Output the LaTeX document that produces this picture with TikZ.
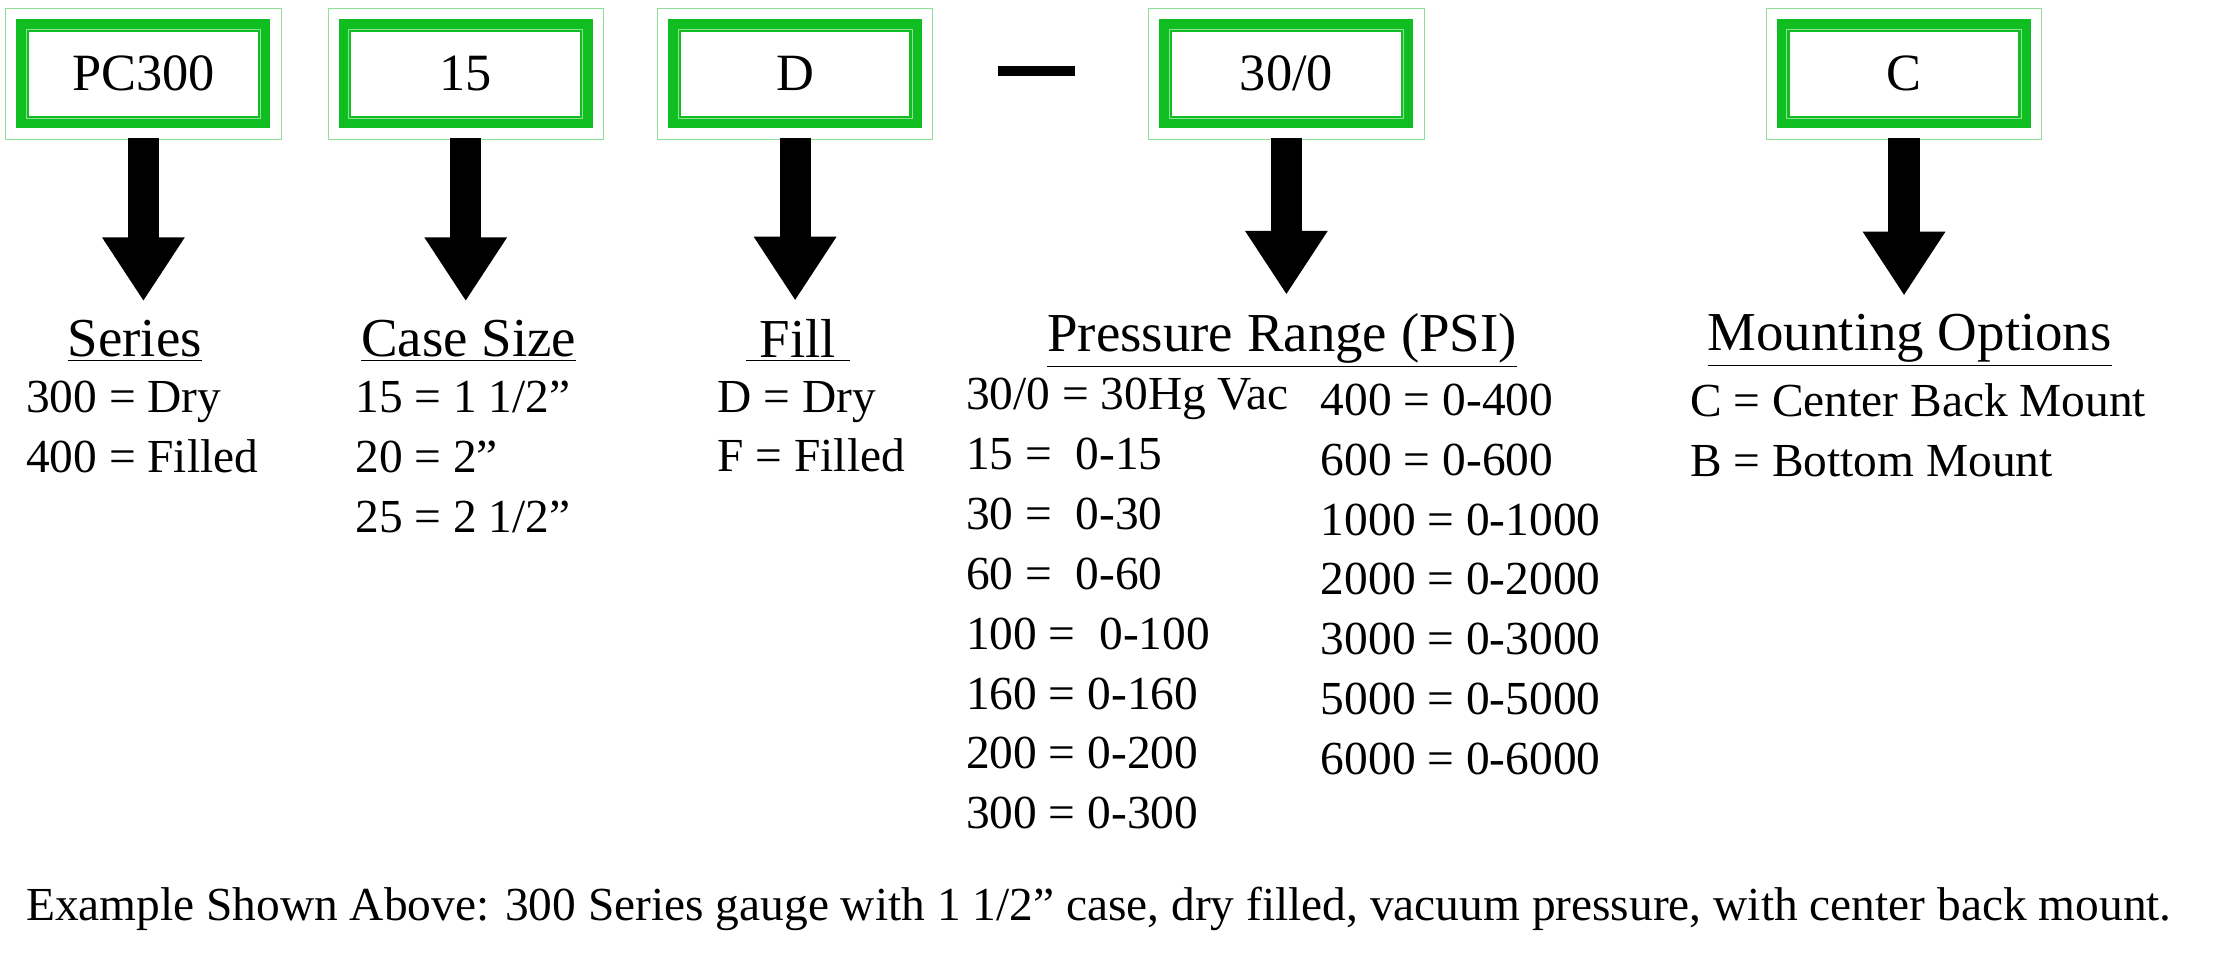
\documentclass[tikz,border=0pt]{standalone}
\usepackage{fontspec}
\setmainfont{Liberation Serif}
\usetikzlibrary{arrows.meta}
\definecolor{vert}{RGB}{16,190,34}
\definecolor{vertclair}{RGB}{140,225,150}
\begin{document}
\begin{tikzpicture}[x=0.02cm, y=-0.02cm]
	\tikzset{boite/.style={draw=vert, line width=0.18cm, minimum width=3.4cm, minimum height=1.36cm, inner sep=0pt, font=\fontsize{21}{26}\selectfont},
		titre/.style={font=\fontsize{22}{26}\selectfont, inner sep=1pt},
		liste/.style={font=\fontsize{19}{24}\selectfont, align=left, anchor=north west, inner sep=0pt},
		fleche/.style={line width=0.44cm, -{Triangle[length=0.9cm, width=1.1cm]}}};
	\useasboundingbox (0,0) rectangle (1560,671);

	\node[boite] (pc)  at (101,52)  {PC300};
	\node[boite] (cs)  at (328,52)  {15};
	\node[boite] (fi)  at (560,52)  {D};
	\node[boite] (pr)  at (906,52)  {30/0};
	\node[boite] (mo)  at (1341,52) {C};
	\draw[line width=0.15cm] (703,50) -- (757,50);

	\foreach \b in {pc,cs,fi,pr,mo} {
		\draw[vertclair, thin] ([shift={(-0.15cm,-0.15cm)}]\b.south west) rectangle ([shift={(0.15cm,0.15cm)}]\b.north east);
		\draw[vertclair, thin] ([shift={(0.14cm,0.14cm)}]\b.south west) rectangle ([shift={(-0.14cm,-0.14cm)}]\b.north east);
	}

	\node[titre] (tser) at (95,240)  {\underline{Series}};
	\node[titre] (tcs)  at (330,240) {\underline{Case Size}};
	\node[titre] (tfi)  at (562,240) {\underline{\ Fill\ }};
	\node[titre] (tpr)  at (903,240) {\underline{Pressure Range (PSI)}};
	\node[titre] (tmo)  at (1345,240) {\underline{Mounting Options}};

	\draw[fleche] ([yshift=-0.14cm]pc.south) -- ([yshift=0.22cm]tser.north -| pc.south);
	\draw[fleche] ([yshift=-0.14cm]cs.south) -- ([yshift=0.22cm]tcs.north -| cs.south);
	\draw[fleche] ([yshift=-0.14cm]fi.south) -- ([yshift=0.22cm]tfi.north -| fi.south);
	\draw[fleche] ([yshift=-0.14cm]pr.south) -- ([yshift=0.22cm]tpr.north -| pr.south);
	\draw[fleche] ([yshift=-0.14cm]mo.south) -- ([yshift=0.22cm]tmo.north -| mo.south);

	\node[liste] (lser) at (18,268)  {300 = Dry\\400 = Filled};
	\node[liste] (lcs)  at (250,268) {15 = 1 1/2”\\20 = 2”\\25 = 2 1/2”};
	\node[liste] (lfi)  at (505,268) {D = Dry\\F = Filled};
	\node[liste] (lpr1) at (680,266) {30/0 = 30Hg Vac\\15 =\ \ 0-15\\30 =\ \ 0-30\\60 =\ \ 0-60\\100 =\ \ 0-100\\160 = 0-160\\200 = 0-200\\300 = 0-300};
	\node[liste] (lpr2) at (930,270) {400 = 0-400\\600 = 0-600\\1000 = 0-1000\\2000 = 0-2000\\3000 = 0-3000\\5000 = 0-5000\\6000 = 0-6000};
	\node[liste] (lmo)  at (1190,270) {C = Center Back Mount\\B = Bottom Mount};

	\node[liste, anchor=west] (expl) at (18,640) {Example Shown Above: 300 Series gauge with 1 1/2” case, dry filled, vacuum pressure, with center back mount.};
\end{tikzpicture}
\end{document}
